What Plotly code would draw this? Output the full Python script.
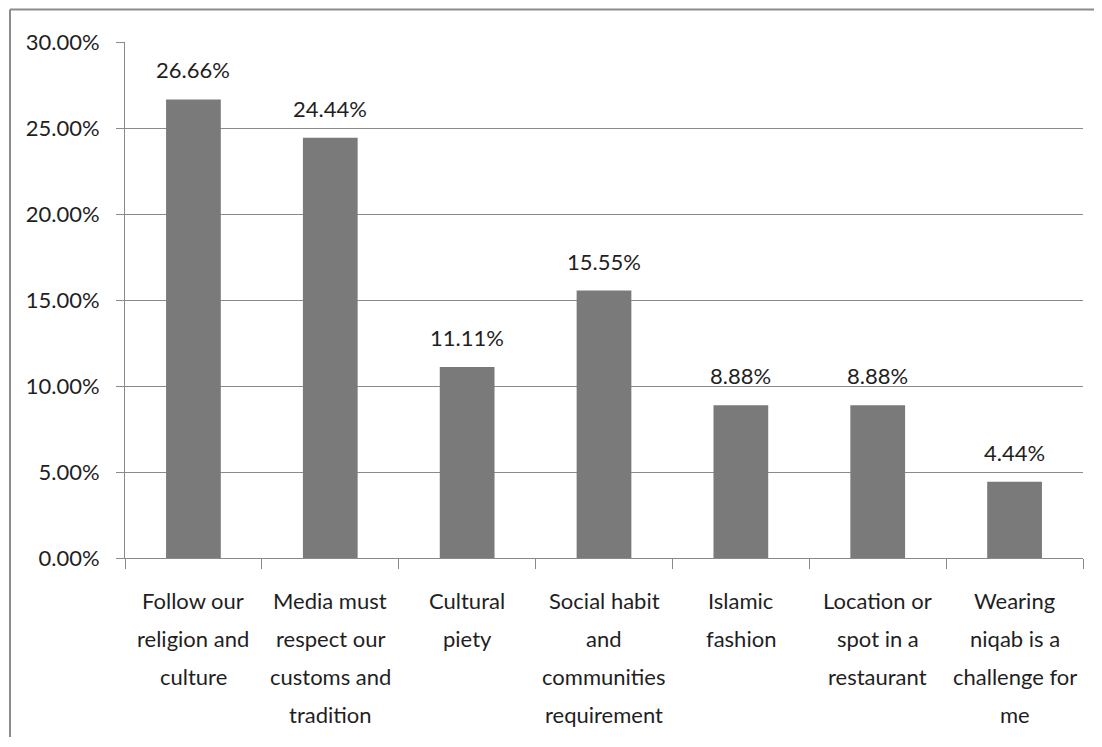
import plotly.graph_objects as go

categories = ["Follow our religion and culture",
              "Media must respect our customs and tradition",
              "Cultural piety",
              "Social habit and communities requirement",
              "Islamic fashion",
              "Location or spot in a restaurant",
              "Wearing niqab is a challenge for me"]
label_lines = [["Follow our", "religion and", "culture"],
               ["Media must", "respect our", "customs and", "tradition"],
               ["Cultural", "piety"],
               ["Social habit", "and", "communities", "requirement"],
               ["Islamic", "fashion"],
               ["Location or", "spot in a", "restaurant"],
               ["Wearing", "niqab is a", "challenge for", "me"]]
values = [0.2666, 0.2444, 0.1111, 0.1555, 0.0888, 0.0888, 0.0444]
value_labels = ["26.66%", "24.44%", "11.11%", "15.55%", "8.88%", "8.88%", "4.44%"]
y_ticks = [0, 0.05, 0.10, 0.15, 0.20, 0.25, 0.30]
y_tick_labels = ["0.00%", "5.00%", "10.00%", "15.00%", "20.00%", "25.00%", "30.00%"]

FONT = "Lato"
TXT = "#1f1f1f"
GRID = "#8a8a8a"

fig = go.Figure(go.Bar(x=categories, y=values, marker=dict(color="#7a7a7a", line=dict(width=0)),
                       hoverinfo="skip"))

annotations = []
for c, v, t in zip(categories, values, value_labels):
    annotations.append(dict(x=c, y=v, xref="x", yref="y", text=t, showarrow=False,
                            yanchor="bottom", yshift=14,
                            font=dict(family=FONT, size=22, color=TXT)))
for c, lines in zip(categories, label_lines):
    for i, ln in enumerate(lines):
        annotations.append(dict(x=c, y=0, xref="x", yref="paper", text=ln, showarrow=False,
                                yanchor="top", yshift=-(27 + 38 * i),
                                font=dict(family=FONT, size=22, color=TXT)))

OFF = 8  # page offset of the figure
W, H = 1092, 729
ml, mt = 125 - OFF, 42 - OFF
pw, ph = 958, 516
mr = W - ml - pw
mb = H - mt - ph

def px_x(p):
    return (p - OFF - ml) / pw

def px_y(p):
    return (mt + ph - (p - OFF)) / ph

BORDER = dict(color="#8c8c8c", width=2)
fig.update_layout(
    width=W, height=H,
    margin=dict(l=ml, r=mr, t=mt, b=mb),
    paper_bgcolor="white", plot_bgcolor="white",
    bargap=0.6,
    showlegend=False,
    font=dict(family=FONT, size=22, color=TXT),
    annotations=annotations,
    shapes=[dict(type="line", xref="paper", yref="paper",
                 x0=px_x(10), x1=px_x(10), y0=px_y(740), y1=px_y(9.5), line=BORDER, layer="below"),
            dict(type="line", xref="paper", yref="paper",
                 x0=px_x(10), x1=px_x(1098), y0=px_y(9.5), y1=px_y(9.5), line=BORDER, layer="below")],
    xaxis=dict(type="category", showticklabels=False, ticks="outside", tickson="boundaries",
               ticklen=10, tickcolor=GRID, tickwidth=1,
               showline=True, linecolor=GRID, linewidth=1, showgrid=False,
               range=[-0.5, len(categories) - 0.5], fixedrange=True),
    yaxis=dict(range=[0, 0.30], tickvals=y_ticks, ticktext=y_tick_labels,
               ticks="outside", ticklen=8, tickcolor=GRID, tickwidth=1,
               showline=True, linecolor=GRID, linewidth=1,
               showgrid=True, gridcolor=GRID, gridwidth=1, zeroline=False,
               ticklabelstandoff=12,
               tickfont=dict(family=FONT, size=22, color=TXT), fixedrange=True),
)

fig.write_html("out.html", config={"displayModeBar": False})
